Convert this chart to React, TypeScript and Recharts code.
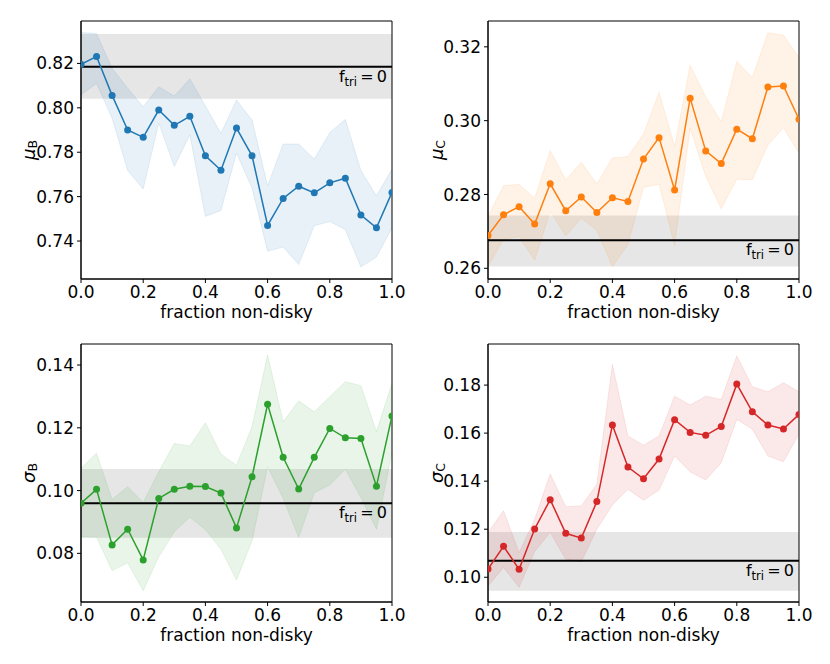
import React from 'react';
import {
  ComposedChart, Line, Area, XAxis, YAxis, ReferenceArea, ReferenceLine, Label,
} from 'recharts';

const fractions = [0, 0.05, 0.1, 0.15, 0.2, 0.25, 0.3, 0.35, 0.4, 0.45, 0.5, 0.55, 0.6, 0.65, 0.7, 0.75, 0.8, 0.85, 0.9, 0.95, 1.0];
const xTicks = [0, 0.2, 0.4, 0.6, 0.8, 1.0];

// mu_B
const muB = [0.8196, 0.8231, 0.8056, 0.79, 0.7867, 0.799, 0.7921, 0.7962, 0.7784, 0.7719, 0.7909, 0.7784, 0.747, 0.7592, 0.7647, 0.7617, 0.7662, 0.7683, 0.7517, 0.746, 0.7619];
const muBHi = [0.8339, 0.8335, 0.8178, 0.8088, 0.8005, 0.8095, 0.8053, 0.8131, 0.8008, 0.7885, 0.8035, 0.7945, 0.7649, 0.7837, 0.7837, 0.7769, 0.7888, 0.7948, 0.7718, 0.7604, 0.7724];
const muBLo = [0.8058, 0.811, 0.7953, 0.7718, 0.7634, 0.793, 0.7736, 0.7878, 0.7511, 0.7538, 0.7796, 0.7638, 0.7354, 0.7373, 0.7294, 0.7469, 0.7488, 0.7451, 0.7283, 0.7328, 0.7459];
const muBRef = [0.8185, 0.8041, 0.8332];
const muBTicks = [0.74, 0.76, 0.78, 0.8, 0.82];

// mu_C
const muC = [0.2689, 0.2745, 0.2767, 0.272, 0.2829, 0.2756, 0.2793, 0.2751, 0.2791, 0.2781, 0.2896, 0.2954, 0.2812, 0.3061, 0.2918, 0.2884, 0.2977, 0.2951, 0.3091, 0.3094, 0.3004];
const muCHi = [0.274, 0.2824, 0.2827, 0.279, 0.2919, 0.284, 0.2887, 0.2829, 0.2899, 0.2903, 0.2964, 0.3077, 0.293, 0.315, 0.3065, 0.2997, 0.3161, 0.3117, 0.3238, 0.3232, 0.3171];
const muCLo = [0.2605, 0.2679, 0.2686, 0.2622, 0.2754, 0.2688, 0.2736, 0.2703, 0.2605, 0.2664, 0.2819, 0.2828, 0.2662, 0.2979, 0.2849, 0.2761, 0.2841, 0.284, 0.2934, 0.2981, 0.2912];
const muCRef = [0.2676, 0.2605, 0.2743];
const muCTicks = [0.26, 0.28, 0.3, 0.32];

// sigma_B
const sigB = [0.096, 0.1004, 0.0827, 0.0877, 0.0779, 0.0975, 0.1004, 0.1014, 0.1013, 0.0992, 0.0881, 0.1044, 0.1275, 0.1106, 0.1005, 0.1106, 0.1198, 0.1168, 0.1166, 0.1014, 0.1238];
const sigBHi = [0.1071, 0.1119, 0.0972, 0.1012, 0.0962, 0.106, 0.115, 0.1142, 0.1216, 0.1116, 0.1081, 0.1204, 0.1432, 0.1219, 0.1286, 0.1251, 0.1299, 0.1347, 0.1334, 0.1188, 0.1342];
const sigBLo = [0.0853, 0.0851, 0.0745, 0.077, 0.0681, 0.0789, 0.0869, 0.0915, 0.0876, 0.0813, 0.0715, 0.084, 0.1076, 0.0975, 0.0851, 0.0993, 0.1018, 0.1068, 0.0978, 0.0877, 0.1121];
const sigBRef = [0.096, 0.085, 0.1069];
const sigBTicks = [0.08, 0.1, 0.12, 0.14];

// sigma_C
const sigC = [0.1034, 0.1129, 0.1033, 0.1201, 0.1323, 0.1183, 0.1163, 0.1315, 0.1634, 0.1459, 0.141, 0.1492, 0.1656, 0.1603, 0.1591, 0.1628, 0.1804, 0.1689, 0.1634, 0.1617, 0.1678];
const sigCHi = [0.1186, 0.1277, 0.1102, 0.1241, 0.143, 0.1294, 0.1297, 0.1387, 0.1886, 0.1588, 0.155, 0.1588, 0.1754, 0.1717, 0.1754, 0.174, 0.1922, 0.1793, 0.1772, 0.181, 0.1772];
const sigCLo = [0.0964, 0.1041, 0.0958, 0.1107, 0.1187, 0.1075, 0.1065, 0.12, 0.1301, 0.1366, 0.1321, 0.1363, 0.1505, 0.1439, 0.1405, 0.1477, 0.1657, 0.1616, 0.1505, 0.1481, 0.1596];
const sigCRef = [0.1069, 0.0944, 0.1188];
const sigCTicks = [0.1, 0.12, 0.14, 0.16, 0.18];

const FONT = 'DejaVu Sans';
const FS = 17;

type PanelProps = {
  left: number; top: number; height: number; marginTop: number; yAxisW: number;
  values: number[]; hi: number[]; lo: number[]; ref: number[];
  domain: [number, number]; ticks: number[]; color: string;
  sym: string; sub: string; labelDx: number;
};

function Panel(p: PanelProps) {
  const data = fractions.map((f, i) => ({ f, v: p.values[i], band: [p.lo[i], p.hi[i]] }));
  const W = 415;
  const plotW = 311;
  const plotH = 258;
  const xAxisH = p.height - p.marginTop - plotH;
  const tickStyle = { fontFamily: FONT, fontSize: FS, fill: '#000' };
  return (
    <div style={{ position: 'absolute', left: p.left, top: p.top, width: W, height: p.height }}>
      <ComposedChart
        width={W}
        height={p.height}
        data={data}
        margin={{ top: p.marginTop, right: W - p.yAxisW - plotW, left: 0, bottom: 0 }}
      >
        <XAxis
          dataKey="f"
          type="number"
          domain={[0, 1]}
          ticks={xTicks}
          allowDataOverflow
          tickFormatter={(v: number) => v.toFixed(1)}
          tick={tickStyle}
          tickSize={4}
          tickMargin={3}
          height={xAxisH}
          axisLine={{ stroke: '#000', strokeWidth: 1 }}
          tickLine={{ stroke: '#000', strokeWidth: 1 }}
        >
          <Label
            value="fraction non-disky"
            position="insideBottom"
            offset={xAxisH - 39}
            style={{ fontFamily: FONT, fontSize: FS, fill: '#000' }}
          />
        </XAxis>
        <YAxis
          type="number"
          domain={p.domain}
          ticks={p.ticks}
          allowDataOverflow
          tickFormatter={(v: number) => v.toFixed(2)}
          tick={tickStyle}
          tickSize={4}
          tickMargin={3}
          width={p.yAxisW}
          axisLine={{ stroke: '#000', strokeWidth: 1 }}
          tickLine={{ stroke: '#000', strokeWidth: 1 }}
        >
          <Label
            content={(props: any) => {
              const vb = props.viewBox || {};
              const cx = (vb.x || 0) + p.labelDx;
              const cy = (vb.y || 0) + (vb.height || 0) / 2;
              return (
                <text
                  x={cx}
                  y={cy}
                  transform={`rotate(-90, ${cx}, ${cy})`}
                  textAnchor="middle"
                  dominantBaseline="central"
                  fontFamily={FONT}
                  fontSize={18}
                  fill="#000"
                >
                  <tspan fontStyle="italic">{p.sym}</tspan>
                  <tspan fontSize={12.5} dy={4}>{p.sub}</tspan>
                </text>
              );
            }}
          />
        </YAxis>
        <ReferenceArea y1={p.ref[1]} y2={p.ref[2]} fill="#808080" fillOpacity={0.2} stroke="none" />
        <Area
          dataKey="band"
          type="linear"
          fill={p.color}
          fillOpacity={0.1}
          stroke={p.color}
          strokeOpacity={0.1}
          isAnimationActive={false}
          dot={false}
          activeDot={false}
        />
        <ReferenceLine
          y={p.ref[0]}
          stroke="#000"
          strokeWidth={2}
          label={(props: any) => {
            const vb = props.viewBox || {};
            const x = (vb.x || 0) + (vb.width || 0) - 5;
            const y = (vb.y || 0) + 15;
            return (
              <text x={x} y={y} textAnchor="end" fontFamily={FONT} fontSize={16} fill="#000">
                <tspan>f</tspan>
                <tspan fontSize={11.5} dy={4}>tri</tspan>
                <tspan dy={-4}>{'\u2009=\u20090'}</tspan>
              </text>
            );
          }}
        />
        <Line
          dataKey="v"
          type="linear"
          stroke={p.color}
          strokeWidth={1.5}
          dot={{ r: 3.5, fill: p.color, stroke: p.color, strokeWidth: 0 }}
          activeDot={false}
          isAnimationActive={false}
        />
        <ReferenceArea
          x1={0}
          x2={1}
          y1={p.domain[0]}
          y2={p.domain[1]}
          fill="none"
          fillOpacity={0}
          stroke="#000"
          strokeWidth={1}
          ifOverflow="visible"
        />
      </ComposedChart>
    </div>
  );
}

export default function App() {
  return (
    <div style={{ position: 'absolute', left: 0, top: 0, width: 830, height: 664, background: '#fff' }}>
      <Panel left={0} top={0} height={330} marginTop={21} yAxisW={81}
        values={muB} hi={muBHi} lo={muBLo} ref={muBRef}
        domain={[0.7229, 0.8391]} ticks={muBTicks} color="#1f77b4" sym="μ" sub="B" labelDx={28} />
      <Panel left={415} top={0} height={330} marginTop={21} yAxisW={73}
        values={muC} hi={muCHi} lo={muCLo} ref={muCRef}
        domain={[0.2571, 0.327]} ticks={muCTicks} color="#ff7f0e" sym="μ" sub="C" labelDx={21} />
      <Panel left={0} top={330} height={334} marginTop={14} yAxisW={81}
        values={sigB} hi={sigBHi} lo={sigBLo} ref={sigBRef}
        domain={[0.0645, 0.1467]} ticks={sigBTicks} color="#2ca02c" sym="σ" sub="B" labelDx={28} />
      <Panel left={415} top={330} height={334} marginTop={14} yAxisW={73}
        values={sigC} hi={sigCHi} lo={sigCLo} ref={sigCRef}
        domain={[0.0897, 0.1971]} ticks={sigCTicks} color="#d62728" sym="σ" sub="C" labelDx={21} />
    </div>
  );
}
